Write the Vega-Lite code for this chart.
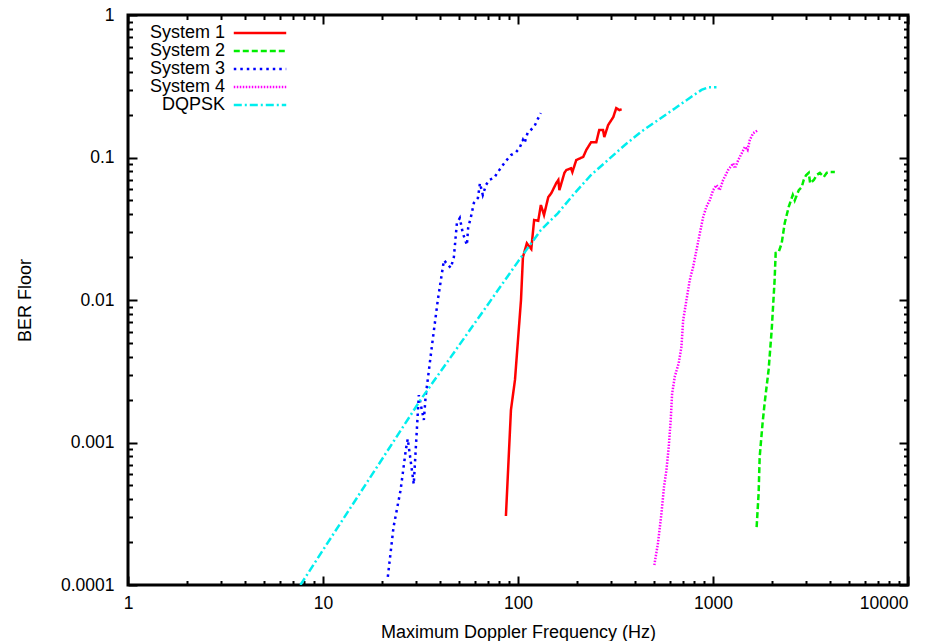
{
  "$schema": "https://vega.github.io/schema/vega-lite/v6.json",
  "width": 780,
  "height": 570,
  "autosize": {"type": "none"},
  "padding": {"left": 128, "top": 15, "right": 24, "bottom": 56},
  "background": "white",
  "config": {
    "view": {"stroke": "black", "strokeWidth": 3},
    "axis": {
      "grid": false,
      "domain": false,
      "tickColor": "black",
      "tickWidth": 2,
      "labelColor": "black",
      "titleColor": "black",
      "labelFont": "Liberation Sans",
      "titleFont": "Liberation Sans",
      "labelFontSize": 17.5,
      "titleFontSize": 18,
      "titleFontWeight": "normal",
      "labelOverlap": false,
      "labelFlush": false
    }
  },
  "data": {
    "values": [
      {"s": "System 1", "i": 1, "f": 86.7, "b": 0.000305},
      {"s": "System 1", "i": 2, "f": 92, "b": 0.00169},
      {"s": "System 1", "i": 3, "f": 96.5, "b": 0.00275},
      {"s": "System 1", "i": 4, "f": 103.6, "b": 0.01},
      {"s": "System 1", "i": 5, "f": 106, "b": 0.02},
      {"s": "System 1", "i": 6, "f": 111, "b": 0.025},
      {"s": "System 1", "i": 7, "f": 117, "b": 0.0228},
      {"s": "System 1", "i": 8, "f": 121, "b": 0.0364},
      {"s": "System 1", "i": 9, "f": 127, "b": 0.036},
      {"s": "System 1", "i": 10, "f": 131, "b": 0.0464},
      {"s": "System 1", "i": 11, "f": 136, "b": 0.0395},
      {"s": "System 1", "i": 12, "f": 143, "b": 0.0528},
      {"s": "System 1", "i": 13, "f": 148, "b": 0.056},
      {"s": "System 1", "i": 14, "f": 157, "b": 0.066},
      {"s": "System 1", "i": 15, "f": 161, "b": 0.0695},
      {"s": "System 1", "i": 16, "f": 163, "b": 0.059},
      {"s": "System 1", "i": 17, "f": 173, "b": 0.078},
      {"s": "System 1", "i": 18, "f": 177, "b": 0.0817},
      {"s": "System 1", "i": 19, "f": 187, "b": 0.084},
      {"s": "System 1", "i": 20, "f": 190, "b": 0.079},
      {"s": "System 1", "i": 21, "f": 199, "b": 0.096},
      {"s": "System 1", "i": 22, "f": 216, "b": 0.101},
      {"s": "System 1", "i": 23, "f": 224, "b": 0.113},
      {"s": "System 1", "i": 24, "f": 237, "b": 0.128},
      {"s": "System 1", "i": 25, "f": 252, "b": 0.128},
      {"s": "System 1", "i": 26, "f": 261, "b": 0.156},
      {"s": "System 1", "i": 27, "f": 273, "b": 0.156},
      {"s": "System 1", "i": 28, "f": 277, "b": 0.139},
      {"s": "System 1", "i": 29, "f": 290, "b": 0.169},
      {"s": "System 1", "i": 30, "f": 308, "b": 0.192},
      {"s": "System 1", "i": 31, "f": 319, "b": 0.222},
      {"s": "System 1", "i": 32, "f": 331, "b": 0.215},
      {"s": "System 1", "i": 33, "f": 340, "b": 0.218},

      {"s": "System 2", "i": 1, "f": 1674, "b": 0.000255},
      {"s": "System 2", "i": 2, "f": 1714, "b": 0.000442},
      {"s": "System 2", "i": 3, "f": 1735, "b": 0.00079},
      {"s": "System 2", "i": 4, "f": 1796, "b": 0.00137},
      {"s": "System 2", "i": 5, "f": 1840, "b": 0.00189},
      {"s": "System 2", "i": 6, "f": 1928, "b": 0.00323},
      {"s": "System 2", "i": 7, "f": 2000, "b": 0.00616},
      {"s": "System 2", "i": 8, "f": 2070, "b": 0.0138},
      {"s": "System 2", "i": 9, "f": 2096, "b": 0.0214},
      {"s": "System 2", "i": 10, "f": 2172, "b": 0.0217},
      {"s": "System 2", "i": 11, "f": 2250, "b": 0.025},
      {"s": "System 2", "i": 12, "f": 2333, "b": 0.0347},
      {"s": "System 2", "i": 13, "f": 2445, "b": 0.045},
      {"s": "System 2", "i": 14, "f": 2565, "b": 0.0546},
      {"s": "System 2", "i": 15, "f": 2625, "b": 0.05},
      {"s": "System 2", "i": 16, "f": 2754, "b": 0.059},
      {"s": "System 2", "i": 17, "f": 2851, "b": 0.062},
      {"s": "System 2", "i": 18, "f": 2919, "b": 0.0695},
      {"s": "System 2", "i": 19, "f": 3000, "b": 0.075},
      {"s": "System 2", "i": 20, "f": 3097, "b": 0.078},
      {"s": "System 2", "i": 21, "f": 3150, "b": 0.066},
      {"s": "System 2", "i": 22, "f": 3289, "b": 0.0695},
      {"s": "System 2", "i": 23, "f": 3404, "b": 0.0754},
      {"s": "System 2", "i": 24, "f": 3532, "b": 0.078},
      {"s": "System 2", "i": 25, "f": 3700, "b": 0.073},
      {"s": "System 2", "i": 26, "f": 3830, "b": 0.078},
      {"s": "System 2", "i": 27, "f": 3972, "b": 0.0792},
      {"s": "System 2", "i": 28, "f": 4215, "b": 0.079},

      {"s": "System 3", "i": 1, "f": 21.5, "b": 0.000114},
      {"s": "System 3", "i": 2, "f": 23.0, "b": 0.000255},
      {"s": "System 3", "i": 3, "f": 25.0, "b": 0.000464},
      {"s": "System 3", "i": 4, "f": 26.6, "b": 0.00089},
      {"s": "System 3", "i": 5, "f": 27.2, "b": 0.00106},
      {"s": "System 3", "i": 6, "f": 29.2, "b": 0.00051},
      {"s": "System 3", "i": 7, "f": 31, "b": 0.00215},
      {"s": "System 3", "i": 8, "f": 32.9, "b": 0.00144},
      {"s": "System 3", "i": 9, "f": 33.6, "b": 0.0021},
      {"s": "System 3", "i": 10, "f": 36, "b": 0.0045},
      {"s": "System 3", "i": 11, "f": 38.8, "b": 0.01},
      {"s": "System 3", "i": 12, "f": 41.7, "b": 0.019},
      {"s": "System 3", "i": 13, "f": 45.2, "b": 0.0168},
      {"s": "System 3", "i": 14, "f": 46.9, "b": 0.02},
      {"s": "System 3", "i": 15, "f": 48.6, "b": 0.0347},
      {"s": "System 3", "i": 16, "f": 50.3, "b": 0.0376},
      {"s": "System 3", "i": 17, "f": 52.1, "b": 0.0295},
      {"s": "System 3", "i": 18, "f": 54.7, "b": 0.0243},
      {"s": "System 3", "i": 19, "f": 55.5, "b": 0.032},
      {"s": "System 3", "i": 20, "f": 57.3, "b": 0.038},
      {"s": "System 3", "i": 21, "f": 59.4, "b": 0.048},
      {"s": "System 3", "i": 22, "f": 62.3, "b": 0.052},
      {"s": "System 3", "i": 23, "f": 63.8, "b": 0.066},
      {"s": "System 3", "i": 24, "f": 66, "b": 0.0546},
      {"s": "System 3", "i": 25, "f": 68.5, "b": 0.064},
      {"s": "System 3", "i": 26, "f": 71, "b": 0.0695},
      {"s": "System 3", "i": 27, "f": 75.3, "b": 0.0718},
      {"s": "System 3", "i": 28, "f": 78.9, "b": 0.079},
      {"s": "System 3", "i": 29, "f": 83.7, "b": 0.0886},
      {"s": "System 3", "i": 30, "f": 86.7, "b": 0.0946},
      {"s": "System 3", "i": 31, "f": 92, "b": 0.104},
      {"s": "System 3", "i": 32, "f": 97.7, "b": 0.109},
      {"s": "System 3", "i": 33, "f": 102, "b": 0.117},
      {"s": "System 3", "i": 34, "f": 106, "b": 0.133},
      {"s": "System 3", "i": 35, "f": 108, "b": 0.126},
      {"s": "System 3", "i": 36, "f": 112, "b": 0.149},
      {"s": "System 3", "i": 37, "f": 121, "b": 0.164},
      {"s": "System 3", "i": 38, "f": 127, "b": 0.189},
      {"s": "System 3", "i": 39, "f": 131, "b": 0.205},

      {"s": "System 4", "i": 1, "f": 500, "b": 0.000138},
      {"s": "System 4", "i": 2, "f": 522, "b": 0.000196},
      {"s": "System 4", "i": 3, "f": 544, "b": 0.000318},
      {"s": "System 4", "i": 4, "f": 561, "b": 0.00049},
      {"s": "System 4", "i": 5, "f": 577, "b": 0.00064},
      {"s": "System 4", "i": 6, "f": 593, "b": 0.00093},
      {"s": "System 4", "i": 7, "f": 607, "b": 0.00144},
      {"s": "System 4", "i": 8, "f": 617, "b": 0.0022},
      {"s": "System 4", "i": 9, "f": 637, "b": 0.0029},
      {"s": "System 4", "i": 10, "f": 667, "b": 0.0036},
      {"s": "System 4", "i": 11, "f": 689, "b": 0.0047},
      {"s": "System 4", "i": 12, "f": 703, "b": 0.0072},
      {"s": "System 4", "i": 13, "f": 731, "b": 0.01},
      {"s": "System 4", "i": 14, "f": 760, "b": 0.0138},
      {"s": "System 4", "i": 15, "f": 791, "b": 0.0171},
      {"s": "System 4", "i": 16, "f": 823, "b": 0.0224},
      {"s": "System 4", "i": 17, "f": 856, "b": 0.0294},
      {"s": "System 4", "i": 18, "f": 891, "b": 0.0384},
      {"s": "System 4", "i": 19, "f": 926, "b": 0.0452},
      {"s": "System 4", "i": 20, "f": 963, "b": 0.0503},
      {"s": "System 4", "i": 21, "f": 1002, "b": 0.0591},
      {"s": "System 4", "i": 22, "f": 1042, "b": 0.064},
      {"s": "System 4", "i": 23, "f": 1083, "b": 0.0591},
      {"s": "System 4", "i": 24, "f": 1127, "b": 0.0695},
      {"s": "System 4", "i": 25, "f": 1196, "b": 0.0817},
      {"s": "System 4", "i": 26, "f": 1270, "b": 0.091},
      {"s": "System 4", "i": 27, "f": 1295, "b": 0.084},
      {"s": "System 4", "i": 28, "f": 1348, "b": 0.096},
      {"s": "System 4", "i": 29, "f": 1403, "b": 0.107},
      {"s": "System 4", "i": 30, "f": 1459, "b": 0.119},
      {"s": "System 4", "i": 31, "f": 1504, "b": 0.113},
      {"s": "System 4", "i": 32, "f": 1545, "b": 0.133},
      {"s": "System 4", "i": 33, "f": 1607, "b": 0.148},
      {"s": "System 4", "i": 34, "f": 1706, "b": 0.156},

      {"s": "DQPSK", "i": 1, "f": 7.66, "b": 0.0001},
      {"s": "DQPSK", "i": 2, "f": 10, "b": 0.000176},
      {"s": "DQPSK", "i": 3, "f": 15, "b": 0.000413},
      {"s": "DQPSK", "i": 4, "f": 20, "b": 0.000757},
      {"s": "DQPSK", "i": 5, "f": 31.7, "b": 0.002},
      {"s": "DQPSK", "i": 6, "f": 45, "b": 0.00394},
      {"s": "DQPSK", "i": 7, "f": 66.9, "b": 0.0085},
      {"s": "DQPSK", "i": 8, "f": 100, "b": 0.0186},
      {"s": "DQPSK", "i": 9, "f": 131, "b": 0.031},
      {"s": "DQPSK", "i": 10, "f": 160, "b": 0.0406},
      {"s": "DQPSK", "i": 11, "f": 195, "b": 0.0561},
      {"s": "DQPSK", "i": 12, "f": 237, "b": 0.0754},
      {"s": "DQPSK", "i": 13, "f": 289, "b": 0.096},
      {"s": "DQPSK", "i": 14, "f": 352, "b": 0.122},
      {"s": "DQPSK", "i": 15, "f": 429, "b": 0.152},
      {"s": "DQPSK", "i": 16, "f": 522, "b": 0.183},
      {"s": "DQPSK", "i": 17, "f": 637, "b": 0.221},
      {"s": "DQPSK", "i": 18, "f": 775, "b": 0.267},
      {"s": "DQPSK", "i": 19, "f": 873, "b": 0.298},
      {"s": "DQPSK", "i": 20, "f": 945, "b": 0.311},
      {"s": "DQPSK", "i": 21, "f": 1042, "b": 0.311}
    ]
  },
  "layer": [
    {
      "mark": {"type": "line", "strokeWidth": 2.5, "clip": true},
      "encoding": {
        "x": {
          "field": "f", "type": "quantitative",
          "scale": {"type": "log", "domain": [1, 10000]},
          "axis": {
            "orient": "bottom",
            "values": [1,2,3,4,5,6,7,8,9,10,20,30,40,50,60,70,80,90,100,200,300,400,500,600,700,800,900,1000,2000,3000,4000,5000,6000,7000,8000,9000,10000],
            "labelExpr": "abs(log(datum.value)/LN10 - round(log(datum.value)/LN10)) < 0.001 ? format(datum.value, 'd') : ''",
            "tickSize": {"condition": {"test": "abs(log(datum.value)/LN10 - round(log(datum.value)/LN10)) < 0.001", "value": -9}, "value": -4.5},
            "labelAlign": {"condition": {"test": "datum.value > 9999", "value": "right"}, "value": "center"},
            "labelFont": "Liberation Sans",
            "labelFontSize": 17.5,
            "labelPadding": 18,
            "title": "Maximum Doppler Frequency (Hz)",
            "titleFont": "Liberation Sans",
            "titleFontSize": 18,
            "titlePadding": 7
          }
        },
        "y": {
          "field": "b", "type": "quantitative",
          "scale": {"type": "log", "domain": [0.0001, 1]},
          "axis": {
            "orient": "left",
            "values": [0.0001,0.0002,0.0003,0.0004,0.0005,0.0006,0.0007,0.0008,0.0009,0.001,0.002,0.003,0.004,0.005,0.006,0.007,0.008,0.009,0.01,0.02,0.03,0.04,0.05,0.06,0.07,0.08,0.09,0.1,0.2,0.3,0.4,0.5,0.6,0.7,0.8,0.9,1],
            "labelExpr": "abs(log(datum.value)/LN10 - round(log(datum.value)/LN10)) < 0.001 ? format(datum.value, '~g') : ''",
            "tickSize": {"condition": {"test": "abs(log(datum.value)/LN10 - round(log(datum.value)/LN10)) < 0.001", "value": -9}, "value": -4.5},
            "labelFont": "Liberation Sans",
            "labelFontSize": 17.5,
            "labelPadding": 23,
            "title": "BER Floor",
            "titleFont": "Liberation Sans",
            "titleFontSize": 18,
            "titlePadding": 26
          }
        },
        "color": {
          "field": "s", "type": "nominal",
          "scale": {"domain": ["System 1", "System 2", "System 3", "System 4", "DQPSK"], "range": ["#ff0000", "#00ee00", "#0000ff", "#ff00ff", "#00eeee"]},
          "legend": {"title": null, "orient": "none", "legendX": 123, "legendY": 9, "padding": 0, "symbolType": "M-5,0H5", "symbolSize": 110, "symbolStrokeWidth": 2.5, "labelAlign": "right", "labelOffset": -44, "labelFont": "Liberation Sans", "labelFontSize": 18, "labelColor": "black", "rowPadding": 0, "labelLimit": 300}
        },
        "strokeDash": {
          "field": "s", "type": "nominal",
          "scale": {"domain": ["System 1", "System 2", "System 3", "System 4", "DQPSK"], "range": [[1, 0], [6, 3], [2.5, 4], [1.5, 1.5], [8, 3, 2, 3]]},
          "legend": {"title": null, "orient": "none", "legendX": 123, "legendY": 9, "padding": 0, "symbolType": "M-5,0H5", "symbolSize": 110, "symbolStrokeWidth": 2.5, "labelAlign": "right", "labelOffset": -44, "labelFont": "Liberation Sans", "labelFontSize": 18, "labelColor": "black", "rowPadding": 0, "labelLimit": 300}
        },
        "order": {"field": "i", "type": "quantitative"}
      }
    },
    {
      "mark": {"type": "line", "opacity": 0},
      "encoding": {
        "x": {
          "field": "f", "type": "quantitative",
          "scale": {"type": "log", "domain": [1, 10000]},
          "axis": {
            "orient": "top",
            "values": [1,2,3,4,5,6,7,8,9,10,20,30,40,50,60,70,80,90,100,200,300,400,500,600,700,800,900,1000,2000,3000,4000,5000,6000,7000,8000,9000,10000],
            "labels": false,
            "title": null,
            "tickSize": {"condition": {"test": "abs(log(datum.value)/LN10 - round(log(datum.value)/LN10)) < 0.001", "value": -9}, "value": -4.5}
          }
        },
        "y": {
          "field": "b", "type": "quantitative",
          "scale": {"type": "log", "domain": [0.0001, 1]},
          "axis": {
            "orient": "right",
            "values": [0.0001,0.0002,0.0003,0.0004,0.0005,0.0006,0.0007,0.0008,0.0009,0.001,0.002,0.003,0.004,0.005,0.006,0.007,0.008,0.009,0.01,0.02,0.03,0.04,0.05,0.06,0.07,0.08,0.09,0.1,0.2,0.3,0.4,0.5,0.6,0.7,0.8,0.9,1],
            "labels": false,
            "title": null,
            "tickSize": {"condition": {"test": "abs(log(datum.value)/LN10 - round(log(datum.value)/LN10)) < 0.001", "value": -9}, "value": -4.5}
          }
        }
      }
    }
  ],
  "resolve": {"axis": {"x": "independent", "y": "independent"}}
}
